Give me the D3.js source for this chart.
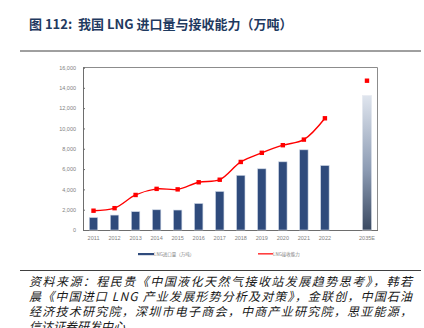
<!DOCTYPE html>
<html>
<head>
<meta charset="utf-8">
<script src="https://cdn.jsdelivr.net/npm/d3@7"></script>
<style>
  body { margin: 0; background: #fff; }
  svg { display: block; }
</style>
</head>
<body>
<div id="chart"></div>
<script>
var svgWidth = 424;
var svgHeight = 328;

// data
var years = ["2011", "2012", "2013", "2014", "2015", "2016", "2017", "2018", "2019", "2020", "2021", "2022", "", "2035E"];
var imports = [1221, 1468, 1802, 1989, 1965, 2606, 3789, 5378, 6025, 6713, 7893, 6344, null, null];
var capacity = [1900, 2150, 3450, 4050, 4000, 4700, 4950, 6700, 7600, 8350, 8900, 11000, null, null];
var forecastBar = 13250;
var forecastCap = 14700;
var yTicks = [0, 2000, 4000, 6000, 8000, 10000, 12000, 14000, 16000];

var margin = { top: 67.5, left: 83, right: 46.5, bottom: 98 };
var width = svgWidth - margin.left - margin.right;
var height = svgHeight - margin.top - margin.bottom;

var svg = d3.select("#chart").append("svg")
  .attr("width", svgWidth)
  .attr("height", svgHeight);

// title
svg.append("text")
  .attr("x", 29)
  .attr("y", 29)
  .attr("font-family", "Noto Sans CJK SC, Liberation Sans, sans-serif")
  .attr("font-size", 13)
  .attr("font-weight", "bold")
  .attr("fill", "#1f3a60")
  .style("white-space", "pre")
  .text("图 112:  我国 LNG 进口量与接收能力（万吨）");

svg.append("line")
  .attr("x1", 20).attr("x2", 421)
  .attr("y1", 51).attr("y2", 51)
  .attr("stroke", "#404040").attr("stroke-width", 1);

var chartGroup = svg.append("g")
  .attr("transform", `translate(${margin.left}, ${margin.top})`);

var x = d3.scaleBand()
  .domain(years)
  .range([0, width])
  .paddingInner(0.6)
  .paddingOuter(0.3);

var y = d3.scaleLinear()
  .domain([0, 16000])
  .range([height, 0]);

// plot frame (top and right)
chartGroup.append("path")
  .attr("d", `M0,0H${width}V${height}`)
  .attr("fill", "none")
  .attr("stroke", "#8c8c8c")
  .attr("stroke-width", 1);

// axes
var leftAxis = d3.axisLeft(y)
  .tickValues(yTicks)
  .tickSize(-2)
  .tickPadding(7)
  .tickFormat(d3.format(","));

var gy = chartGroup.append("g").call(leftAxis);
gy.select(".domain").attr("stroke", "#6e6e6e");
gy.selectAll(".tick line").attr("stroke", "#6e6e6e");
gy.selectAll("text")
  .attr("font-family", "Liberation Sans, Arial, sans-serif")
  .attr("font-size", 5.5)
  .attr("fill", "#7f7f7f");

var bottomAxis = d3.axisBottom(x).tickSize(0).tickPadding(6);
var gx = chartGroup.append("g")
  .attr("transform", `translate(0, ${height})`)
  .call(bottomAxis);
gx.select(".domain").attr("stroke", "#6e6e6e");
gx.selectAll("text")
  .attr("font-family", "Liberation Sans, Arial, sans-serif")
  .attr("font-size", 5.5)
  .attr("fill", "#7f7f7f");

// gradient for the forecast bar
var defs = svg.append("defs");
var grad = defs.append("linearGradient")
  .attr("id", "fcGrad")
  .attr("x1", 0).attr("x2", 0).attr("y1", 0).attr("y2", 1);
grad.append("stop").attr("offset", "0%").attr("stop-color", "#dfe5ee");
grad.append("stop").attr("offset", "55%").attr("stop-color", "#8d9cb4");
grad.append("stop").attr("offset", "100%").attr("stop-color", "#3b4a62");

// bars
var barData = years.map((d, i) => ({ year: d, value: imports[i] })).filter(d => d.value != null);

chartGroup.selectAll(".bar")
  .data(barData)
  .enter()
  .append("rect")
  .attr("class", "bar")
  .attr("x", d => x(d.year))
  .attr("y", d => y(d.value))
  .attr("width", x.bandwidth())
  .attr("height", d => height - y(d.value))
  .attr("fill", "#2f4b7c")
  .attr("stroke", "#c9d3e3")
  .attr("stroke-width", 0.6);

var fw = x.bandwidth() + 1;
chartGroup.append("rect")
  .attr("x", x("2035E") + x.bandwidth() / 2 - fw / 2)
  .attr("y", y(forecastBar))
  .attr("width", fw)
  .attr("height", height - y(forecastBar))
  .attr("fill", "url(#fcGrad)")
  .attr("stroke", "#e8ecf2")
  .attr("stroke-width", 0.6);

// capacity line
var lineData = years.map((d, i) => ({ year: d, value: capacity[i] })).filter(d => d.value != null);
var line = d3.line()
  .x(d => x(d.year) + x.bandwidth() / 2)
  .y(d => y(d.value))
  .curve(d3.curveCatmullRom.alpha(0.5));

chartGroup.append("path")
  .datum(lineData)
  .attr("d", line)
  .attr("fill", "none")
  .attr("stroke", "#ff0000")
  .attr("stroke-width", 1.4);

var markers = lineData.concat([{ year: "2035E", value: forecastCap }]);
chartGroup.selectAll(".mk")
  .data(markers)
  .enter()
  .append("rect")
  .attr("class", "mk")
  .attr("x", d => x(d.year) + x.bandwidth() / 2 - 2.2)
  .attr("y", d => y(d.value) - 2.2)
  .attr("width", 4.4)
  .attr("height", 4.4)
  .attr("fill", "#ff0000");

// legend
var legend = svg.append("g")
  .attr("font-family", "Noto Sans CJK SC, sans-serif")
  .attr("font-size", 4.5)
  .attr("fill", "#7f7f7f");

legend.append("rect").attr("x", 138).attr("y", 253).attr("width", 16).attr("height", 2.2).attr("fill", "#2f4b7c");
legend.append("text").attr("x", 154).attr("y", 255.8).text("LNG进口量（万吨）");
legend.append("rect").attr("x", 258).attr("y", 253).attr("width", 15).attr("height", 1.6).attr("fill", "#ff4040");
legend.append("text").attr("x", 273).attr("y", 255.8).text("LNG接收能力");

svg.append("line")
  .attr("x1", 20).attr("x2", 421)
  .attr("y1", 270.5).attr("y2", 270.5)
  .attr("stroke", "#404040").attr("stroke-width", 1);

// source note
var sourceLines = [
  "资料来源：程民贵《中国液化天然气接收站发展趋势思考》，韩若",
  "晨《中国进口 LNG 产业发展形势分析及对策》，金联创，中国石油",
  "经济技术研究院，深圳市电子商会，中商产业研究院，思亚能源，",
  "信达证券研发中心"
];

svg.append("g")
  .selectAll("text")
  .data(sourceLines)
  .enter()
  .append("text")
  .attr("x", 29)
  .attr("y", (d, i) => 286 + i * 15)
  .attr("font-family", "Noto Sans CJK SC, sans-serif")
  .attr("font-size", 12)
  .attr("font-style", "italic")
  .attr("fill", "#1a1a1a")
  .attr("textLength", (d, i) => i < 3 ? 383 : null)
  .attr("lengthAdjust", "spacing")
  .text(d => d);
</script>
</body>
</html>
